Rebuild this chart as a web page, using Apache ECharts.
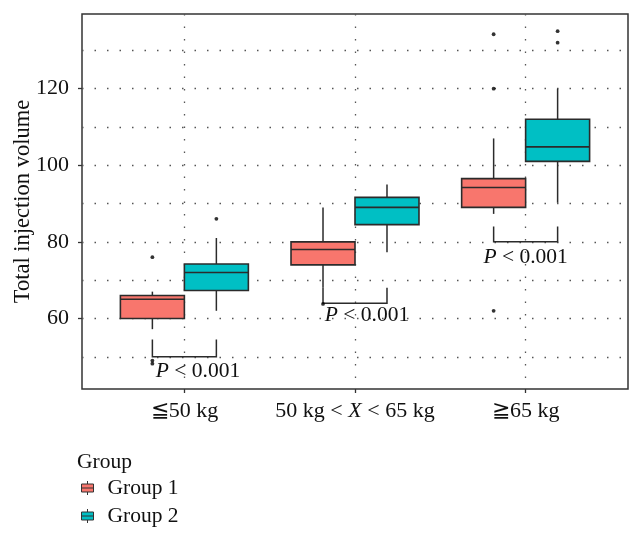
<!DOCTYPE html>
<html><head><meta charset="utf-8">
<script src="https://cdn.jsdelivr.net/npm/echarts@6/dist/echarts.min.js"></script>
<style>html,body{margin:0;padding:0;background:#fff}#c{width:643px;height:540px}</style>
</head><body><div id="c"></div>
<script>
// ---- data ----
const categories = ['≦50 kg', '50 kg < X < 65 kg', '≧65 kg'];
const groupNames = ['Group 1', 'Group 2'];
// [min whisker, q1, median, q3, max whisker]
const group1Box = [[57.2, 60, 65, 66, 67], [68, 74, 78, 80, 89], [87.3, 89, 94.2, 96.5, 107]];
const group2Box = [[62, 67.3, 72, 74.2, 81], [77.3, 84.5, 89, 91.6, 95], [90.2, 101, 104.8, 112, 120]];
// [category index, value]
const group1Outliers = [[0, 76], [0, 49], [0, 48.2], [1, 63.8], [2, 134.2], [2, 120], [2, 62]];
const group2Outliers = [[0, 86], [2, 135], [2, 132]];
const yTickValues = [60, 80, 100, 120];
const yGridValues = [50, 60, 70, 80, 90, 100, 110, 120, 130];
// brackets: [category index, top, bottom]
const brackets = [[0, 54.5, 50], [1, 68, 64], [2, 84, 80]];
// p-value labels: [x, y, text]
const pLabels = [[1.08, 46.2, 'P < 0.001'], [2.07, 60.7, 'P < 0.001'], [3.0, 76, 'P < 0.001']];

// ---- chart ----
const FONT = "'Liberation Serif', 'DejaVu Serif', serif";
const colors = ['#F8766D', '#00BFC4'];
const dodge = 0.1875;
const half = 0.1875;
const edge = '#2b2b2b';
const gridLine = { color: '#555', width: 1.3, type: [1.5, 11] };

function boxData(stats, off) {
  return stats.map((s, i) => [i + 1 + off].concat(s));
}
function outData(list, off) {
  return list.map(o => [o[0] + 1 + off, o[1]]);
}
function renderBox(fill) {
  return function (params, api) {
    const x = api.value(0);
    const lo = api.coord([x, api.value(1)]);
    const q1 = api.coord([x - half, api.value(2)]);
    const med = api.coord([x - half, api.value(3)]);
    const q3 = api.coord([x - half, api.value(4)]);
    const hi = api.coord([x, api.value(5)]);
    const right = api.coord([x + half, api.value(3)])[0];
    const cx = lo[0];
    const ls = { stroke: edge, lineWidth: 1.5 };
    return {
      type: 'group', children: [
        { type: 'line', shape: { x1: cx, y1: hi[1], x2: cx, y2: q3[1] }, style: ls },
        { type: 'line', shape: { x1: cx, y1: q1[1], x2: cx, y2: lo[1] }, style: ls },
        { type: 'rect', shape: { x: q3[0], y: q3[1], width: right - q3[0], height: q1[1] - q3[1] },
          style: { fill: fill, stroke: edge, lineWidth: 1.6 } },
        { type: 'line', shape: { x1: q3[0], y1: med[1], x2: right, y2: med[1] }, style: { stroke: edge, lineWidth: 1.6 } }
      ]
    };
  };
}

const series = [];
[group1Box, group2Box].forEach((g, k) => {
  const off = k === 0 ? -dodge : dodge;
  series.push({
    name: groupNames[k], type: 'custom', xAxisIndex: 0, yAxisIndex: 0,
    itemStyle: { color: colors[k] },
    encode: { x: 0, y: [1, 2, 3, 4, 5] },
    data: boxData(g, off), renderItem: renderBox(colors[k]), z: 3
  });
});
[group1Outliers, group2Outliers].forEach((g, k) => {
  const off = k === 0 ? -dodge : dodge;
  series.push({
    name: 'out' + k, type: 'scatter', symbol: 'circle', symbolSize: 3.8,
    itemStyle: { color: '#000' }, data: outData(g, off), z: 4, silent: true
  });
});
series.push({
  name: 'brackets', type: 'custom', silent: true, z: 3,
  data: brackets.map(b => [b[0] + 1, b[1], b[2]]),
  encode: { x: 0, y: [1, 2] },
  renderItem: function (params, api) {
    const x = api.value(0);
    const a = api.coord([x - dodge, api.value(1)]);
    const b = api.coord([x - dodge, api.value(2)]);
    const c = api.coord([x + dodge, api.value(2)]);
    const d = api.coord([x + dodge, api.value(1)]);
    return { type: 'polyline', shape: { points: [a, b, c, d] }, style: { stroke: edge, lineWidth: 1.5, fill: null } };
  }
});
series.push({
  name: 'pvals', type: 'custom', silent: true, z: 5,
  data: pLabels.map(p => [p[0], p[1]]),
  encode: { x: 0, y: 1 },
  renderItem: function (params, api) {
    const p = api.coord([api.value(0), api.value(1)]);
    const t = pLabels[params.dataIndex][2].replace(/^P/, '{p|P}');
    return {
      type: 'text', x: p[0], y: p[1],
      style: {
        text: t, fontSize: 21.5, fontFamily: FONT, fill: '#111', align: 'center', verticalAlign: 'middle',
        rich: { p: { fontStyle: 'italic', fontSize: 21.5, fontFamily: FONT, fill: '#111' } }
      }
    };
  }
});

const yMin = 41.58, yMax = 139.49;
const option = {
  animation: false,
  backgroundColor: '#fff',
  textStyle: { fontFamily: FONT },
  title: { text: 'Group', left: 77, top: 451, padding: 0,
    textStyle: { fontSize: 21.5, fontWeight: 'normal', fontFamily: FONT, color: '#111' } },
  legend: {
    data: groupNames, orient: 'vertical', left: 81, top: 477, itemGap: 6,
    itemWidth: 12, itemHeight: 14, padding: 0,
    icon: 'path://M6,0L6,3M0,3H12V11H0ZM0,7H12M6,11V14',
    itemStyle: { borderColor: '#333', borderWidth: 1 },
    textStyle: { fontSize: 21.5, fontFamily: FONT, color: '#111', lineHeight: 21, padding: [0, 0, 0, 9] }
  },
  grid: { left: 82, right: 15, top: 14, bottom: 151, containLabel: false, outerBoundsMode: 'none',
    show: true, borderColor: '#333', borderWidth: 1.5, backgroundColor: '#fff' },
  xAxis: [{
    type: 'value', min: 0.4, max: 3.6,
    axisLine: { show: false },
    axisTick: { show: true, customValues: [1, 2, 3], length: 4, lineStyle: { color: '#333', width: 1.3 } },
    axisLabel: {
      customValues: [1, 2, 3], margin: 11, fontSize: 22, fontFamily: FONT, color: '#111',
      formatter: v => categories[Math.round(v) - 1].replace(' X ', ' {i|X} '),
      rich: { i: { fontStyle: 'italic', fontSize: 22, fontFamily: FONT, color: '#111' } }
    },
    splitLine: { show: true, lineStyle: gridLine }
  }],
  yAxis: [{
    type: 'value', min: yMin, max: yMax,
    name: 'Total injection volume', nameLocation: 'middle', nameGap: 47, nameMoveOverlap: false,
    nameTextStyle: { fontSize: 22.5, fontFamily: FONT, color: '#111' },
    axisLine: { show: false },
    axisTick: { show: true, customValues: yTickValues, length: 4, lineStyle: { color: '#333', width: 1.3 } },
    axisLabel: { customValues: yTickValues, margin: 13, fontSize: 22, fontFamily: FONT, color: '#111' },
    splitLine: { show: false }
  }, {
    type: 'value', min: yMin, max: yMax, position: 'left',
    axisLine: { show: false },
    axisTick: { show: false, customValues: yGridValues },
    axisLabel: { show: false },
    splitLine: { show: true, lineStyle: gridLine }
  }],
  series: series
};
const chart = echarts.init(document.getElementById('c'), null, { renderer: 'canvas' });
chart.setOption(option);
</script></body></html>
